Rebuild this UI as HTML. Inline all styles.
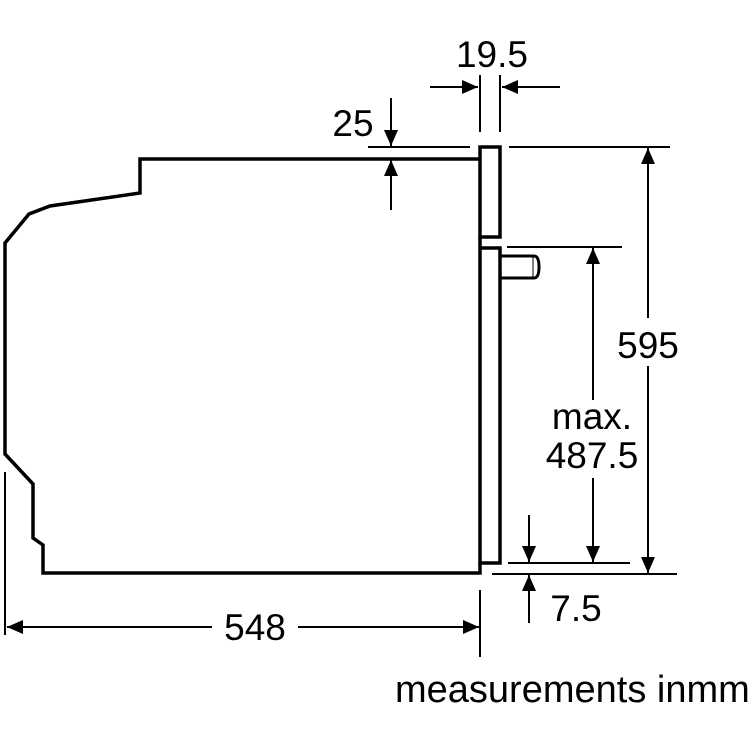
<!DOCTYPE html>
<html><head><style>body{margin:0;background:#fff}</style></head><body>
<svg width="750" height="750" viewBox="0 0 750 750" xmlns="http://www.w3.org/2000/svg" font-family="Liberation Sans, sans-serif" fill="none" stroke="#000">
<defs>
<marker id="b" viewBox="0 0 10 10" refX="10" refY="5" markerWidth="16" markerHeight="14" markerUnits="userSpaceOnUse" orient="auto" preserveAspectRatio="none"><path d="M0,0 L10,5 L0,10z" fill="#000" stroke="none"/></marker></defs>
<path d="M480,159 H140 V193 L50,206 L29,214 L5,243 V454 L33,484 V538 L43,545 V573 H480 V563" stroke-width="3.5" stroke-linejoin="miter"/>
<rect x="480" y="147" width="20" height="90" stroke-width="3.5"/>
<path d="M480,237 V248 H500 V563 H480 V248" stroke-width="3.5"/>
<path d="M500,256 H534 Q539,256 539,267 Q539,278 534,278 H500" stroke-width="3"/>
<line x1="533" y1="257" x2="533" y2="277" stroke-width="1"/>
<g stroke-width="2">
<line x1="368" y1="147" x2="470" y2="147"/>
<line x1="509" y1="147" x2="670" y2="147"/>
<line x1="507" y1="247" x2="622" y2="247"/>
<line x1="508" y1="563" x2="630" y2="563"/>
<line x1="492" y1="574" x2="677" y2="574"/>
<line x1="480" y1="75" x2="480" y2="132"/>
<line x1="500" y1="75" x2="500" y2="132"/>
<line x1="5" y1="472" x2="5" y2="635"/>
<line x1="480" y1="590" x2="480" y2="657"/>
<line x1="430" y1="87" x2="478" y2="87" marker-end="url(#b)"/>
<line x1="560" y1="87" x2="502" y2="87" marker-end="url(#b)"/>
<line x1="391" y1="98" x2="391" y2="146" marker-end="url(#b)"/>
<line x1="391" y1="210" x2="391" y2="160" marker-end="url(#b)"/>
<line x1="529" y1="515" x2="529" y2="562" marker-end="url(#b)"/>
<line x1="529" y1="623" x2="529" y2="575" marker-end="url(#b)"/>
<line x1="648" y1="318" x2="648" y2="148" marker-end="url(#b)"/>
<line x1="648" y1="366" x2="648" y2="573" marker-end="url(#b)"/>
<line x1="593" y1="400" x2="593" y2="248" marker-end="url(#b)"/>
<line x1="593" y1="478" x2="593" y2="562" marker-end="url(#b)"/>
<line x1="212" y1="627" x2="7" y2="627" marker-end="url(#b)"/>
<line x1="298" y1="627" x2="479" y2="627" marker-end="url(#b)"/>
</g>
<g fill="#000" stroke="none" font-size="37" text-anchor="middle">
<text x="492" y="67">19.5</text>
<text x="353" y="136">25</text>
<text x="648" y="358">595</text>
<text x="592" y="429">max.</text>
<text x="592" y="468">487.5</text>
<text x="576" y="621">7.5</text>
<text x="255" y="640">548</text>
<text x="395" y="702" font-size="38" text-anchor="start">measurements inmm</text>
</g>
</svg>
</body></html>
